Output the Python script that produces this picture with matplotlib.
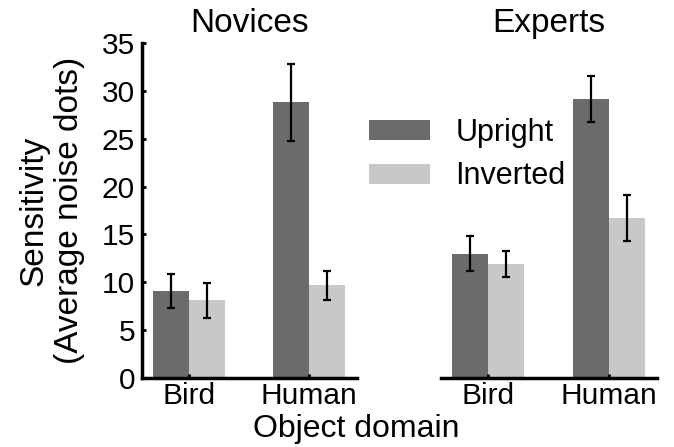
import numpy as np
import matplotlib.pyplot as plt

plt.rcParams['font.family'] = ['Liberation Sans', 'DejaVu Sans']

# Data
domains = ['Bird', 'Human']
groups = ['Novices', 'Experts']
conditions = ['Upright', 'Inverted']

novice_upright = [9.1, 28.8]
novice_upright_err = [1.75, 4.0]
novice_inverted = [8.1, 9.7]
novice_inverted_err = [1.8, 1.5]

expert_upright = [13.0, 29.1]
expert_upright_err = [1.8, 2.4]
expert_inverted = [11.9, 16.7]
expert_inverted_err = [1.4, 2.4]

colors = ['#6b6b6b', '#c8c8c8']
bar_w = 0.3
x = np.arange(len(domains))

fig = plt.figure(figsize=(6.74, 4.47), dpi=100)
ax1 = fig.add_axes([0.2107, 0.1544, 0.319, 0.7494])
ax2 = fig.add_axes([0.6543, 0.1544, 0.3205, 0.7494])

panels = [
    (ax1, groups[0], novice_upright, novice_upright_err, novice_inverted, novice_inverted_err),
    (ax2, groups[1], expert_upright, expert_upright_err, expert_inverted, expert_inverted_err),
]

for ax, title, up, up_err, inv, inv_err in panels:
    ax.bar(x - bar_w / 2, up, bar_w, color=colors[0], label=conditions[0])
    ax.bar(x + bar_w / 2, inv, bar_w, color=colors[1], label=conditions[1])
    ax.errorbar(x - bar_w / 2, up, yerr=up_err, fmt='none', ecolor='black',
                elinewidth=1.6, capsize=3, capthick=1.6)
    ax.errorbar(x + bar_w / 2, inv, yerr=inv_err, fmt='none', ecolor='black',
                elinewidth=1.6, capsize=3, capthick=1.6)
    ax.set_xlim(-0.39, 1.4)
    ax.set_ylim(0, 35)
    ax.set_xticks(x)
    ax.set_xticklabels(domains, fontsize=21.5)
    ax.set_title(title, fontsize=24, pad=8)
    for side in ['top', 'right']:
        ax.spines[side].set_visible(False)
    ax.spines['bottom'].set_linewidth(2.5)
    ax.spines['left'].set_linewidth(2.5)
    ax.tick_params(axis='x', direction='in', length=3, width=2, pad=3)
    ax.tick_params(axis='y', direction='in', length=3, width=2, pad=5, labelsize=21.5)

ax1.set_yticks(np.arange(0, 36, 5))
ax1.set_ylabel('Sensitivity\n(Average noise dots)', fontsize=24, labelpad=12)

ax2.spines['left'].set_visible(False)
ax2.tick_params(axis='y', left=False, labelleft=False)

handles, labels = ax1.get_legend_handles_labels()
fig.legend(handles, labels, loc='upper left', bbox_to_anchor=(0.5475, 0.736),
           frameon=False, fontsize=22, handlelength=2.0, handleheight=0.65,
           handletextpad=0.82, labelspacing=0.44, borderpad=0, borderaxespad=0)

fig.text(0.529, 0.022, 'Object domain', ha='center', va='baseline', fontsize=23)

fig.savefig('out.png', dpi=100)
